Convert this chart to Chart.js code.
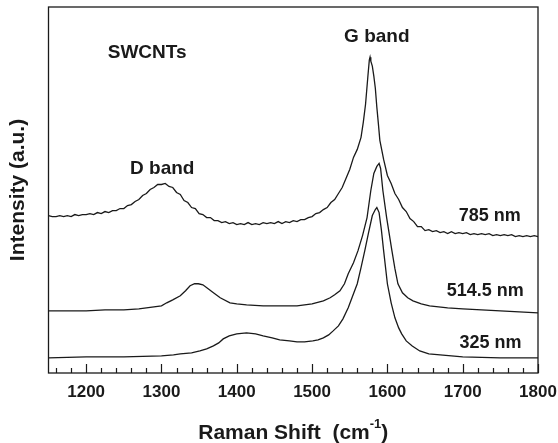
<!DOCTYPE html>
<html>
<head>
<meta charset="utf-8">
<script src="https://cdn.jsdelivr.net/npm/chart.js@4.4.1/dist/chart.umd.min.js"></script>
<style>
  html, body { margin: 0; padding: 0; background: #fff; }
  canvas { display: block; }
</style>
</head>
<body>
<canvas id="raman" width="558" height="443"></canvas>
<script>
// Raman spectra of SWCNTs at three laser lines (intensity in arbitrary units)
const majorTicks = [1200, 1300, 1400, 1500, 1600, 1700, 1800];
const minorTicks = [1160, 1180, 1220, 1240, 1260, 1280, 1320, 1340, 1360, 1380,
                    1420, 1440, 1460, 1480, 1520, 1540, 1560, 1580, 1620, 1640,
                    1660, 1680, 1720, 1740, 1760, 1780];

// 785 nm (noisy, top)
const shift785 = [1150, 1155, 1160, 1165, 1170, 1175, 1180, 1185, 1190, 1195,
                  1200, 1205, 1210, 1215, 1220, 1225, 1230, 1235, 1240, 1245,
                  1250, 1255, 1260, 1265, 1270, 1275, 1280, 1285, 1290, 1295,
                  1300, 1305, 1310, 1315, 1320, 1325, 1330, 1335, 1340, 1345,
                  1350, 1355, 1360, 1365, 1370, 1375, 1380, 1385, 1390, 1395,
                  1400, 1405, 1410, 1415, 1420, 1425, 1430, 1435, 1440, 1445,
                  1450, 1455, 1460, 1465, 1470, 1475, 1480, 1485, 1490, 1495,
                  1500, 1505, 1510, 1515, 1520, 1525, 1530, 1535, 1540, 1545,
                  1550, 1555, 1560, 1565, 1568, 1571, 1574, 1576, 1577, 1578,
                  1580, 1582, 1584, 1586, 1588, 1590, 1595, 1600, 1605, 1610,
                  1615, 1620, 1625, 1630, 1635, 1640, 1645, 1650, 1655, 1660,
                  1665, 1670, 1675, 1680, 1685, 1690, 1695, 1700, 1705, 1710,
                  1715, 1720, 1725, 1730, 1735, 1740, 1745, 1750, 1755, 1760,
                  1765, 1770, 1775, 1780, 1785, 1790, 1795, 1800];
const int785 = [157, 156, 156, 157, 156, 157, 156, 158, 157, 158,
                158, 159, 158, 160, 159, 161, 160, 162, 162, 164,
                164, 167, 168, 171, 173, 177, 179, 183, 185, 188,
                188, 189, 186, 185, 180, 178, 172, 170, 165, 164,
                159, 158, 155, 155, 152, 152, 150, 151, 149, 150,
                148, 149, 148, 150, 148, 149, 148, 150, 149, 150,
                149, 151, 149, 151, 150, 152, 151, 153, 153, 155,
                156, 159, 160, 163, 165, 170, 173, 179, 185, 194,
                203, 215, 223, 235, 250, 268, 295, 312, 315, 311,
                306, 296, 284, 265, 249, 232, 213, 197, 189, 179,
                173, 165, 161, 154, 151, 146, 146, 142, 143, 141,
                142, 140, 141, 139, 141, 139, 140, 139, 140, 138,
                139, 138, 139, 138, 139, 137, 138, 137, 138, 137,
                138, 136, 137, 136, 137, 136, 137, 136];

// 514.5 nm (middle)
const shift514 = [1150, 1175, 1200, 1225, 1250, 1270, 1290, 1300, 1307, 1315,
                  1325, 1332, 1338, 1344, 1349, 1355, 1362, 1369, 1378, 1391,
                  1400, 1413, 1435, 1460, 1480, 1500, 1515, 1524, 1530, 1537,
                  1543, 1548, 1555, 1561, 1567, 1573, 1578, 1582, 1586, 1589,
                  1591, 1594, 1599, 1606, 1610, 1614, 1620, 1627, 1634, 1645,
                  1656, 1680, 1700, 1725, 1750, 1775, 1800];
const int514 = [62, 62, 62, 63, 63, 64, 66, 67, 70, 73,
                77, 82, 87, 89, 89, 88, 84, 80, 75, 70,
                69, 68, 67, 67, 67, 69, 72, 75, 78, 82,
                89, 99, 110, 122, 137, 155, 182, 199, 206, 209,
                204, 182, 155, 122, 104, 89, 80, 75, 72, 69,
                67, 65, 64, 63, 62, 61, 60];

// 325 nm (bottom)
const shift325 = [1150, 1200, 1250, 1300, 1316, 1325, 1340, 1351, 1360, 1369,
                  1376, 1382, 1390, 1400, 1413, 1425, 1435, 1447, 1457, 1470,
                  1480, 1490, 1501, 1508, 1515, 1522, 1528, 1535, 1541, 1548,
                  1553, 1560, 1565, 1570, 1575, 1580, 1584, 1586, 1589, 1592,
                  1595, 1600, 1605, 1610, 1615, 1619, 1625, 1633, 1643, 1655,
                  1670, 1700, 1750, 1800];
const int325 = [15, 16, 16, 17, 18, 19, 20, 22, 24, 27,
                30, 34, 37, 39, 40, 39, 37, 35, 33, 32,
                31, 31, 32, 33, 35, 38, 42, 47, 54, 65,
                75, 89, 105, 122, 140, 157, 163, 165, 160, 143,
                122, 89, 70, 55, 45, 39, 32, 27, 22, 19,
                18, 16, 15, 15];

const FONT = '"Liberation Sans", Arial, Helvetica, sans-serif';
const INK = '#1a1a1a';

function toPoints(xs, ys) {
    return xs.map((x, i) => ({ x: x, y: ys[i] }));
}

// Text labels placed in data coordinates
const labels = [
    { text: 'SWCNTs', x: 1281, y: 319, size: 19, align: 'center' },
    { text: 'D band', x: 1301, y: 204, size: 19, align: 'center' },
    { text: 'G band', x: 1586, y: 335, size: 19, align: 'center' },
    { text: '785 nm', x: 1777, y: 157, size: 18, align: 'right' },
    { text: '514.5 nm', x: 1781, y: 82, size: 18, align: 'right' },
    { text: '325 nm', x: 1778, y: 30, size: 18, align: 'right' }
];

const framePlugin = {
    id: 'frame',
    afterDraw(chart) {
        const ctx = chart.ctx;
        const area = chart.chartArea;
        const xs = chart.scales.x;
        const ys = chart.scales.y;
        ctx.save();
        ctx.strokeStyle = INK;
        ctx.lineWidth = 1.3;
        ctx.strokeRect(area.left, area.top, area.right - area.left, area.bottom - area.top);

        // inward ticks on bottom axis
        ctx.lineWidth = 1.2;
        ctx.beginPath();
        majorTicks.forEach(v => {
            const px = Math.round(xs.getPixelForValue(v)) + 0.5;
            ctx.moveTo(px, area.bottom);
            ctx.lineTo(px, area.bottom - 9);
        });
        minorTicks.forEach(v => {
            const px = Math.round(xs.getPixelForValue(v)) + 0.5;
            ctx.moveTo(px, area.bottom);
            ctx.lineTo(px, area.bottom - 5);
        });
        ctx.stroke();

        // annotations
        ctx.fillStyle = INK;
        ctx.textBaseline = 'middle';
        labels.forEach(l => {
            ctx.font = 'bold ' + l.size + 'px ' + FONT;
            ctx.textAlign = l.align;
            ctx.fillText(l.text, xs.getPixelForValue(l.x), ys.getPixelForValue(l.y));
        });

        // x axis title with superscript
        const main = 'Raman Shift  (cm';
        const sup = '-1';
        const tail = ')';
        ctx.font = 'bold 21px ' + FONT;
        const wMain = ctx.measureText(main).width;
        const wTail = ctx.measureText(tail).width;
        ctx.font = 'bold 13px ' + FONT;
        const wSup = ctx.measureText(sup).width;
        const cx = (area.left + area.right) / 2;
        let tx = cx - (wMain + wSup + wTail) / 2;
        const ty = 433;
        ctx.textAlign = 'left';
        ctx.font = 'bold 21px ' + FONT;
        ctx.fillText(main, tx, ty);
        tx += wMain;
        ctx.font = 'bold 13px ' + FONT;
        ctx.fillText(sup, tx, ty - 9);
        tx += wSup;
        ctx.font = 'bold 21px ' + FONT;
        ctx.fillText(tail, tx, ty);

        // y axis title
        ctx.save();
        ctx.translate(18, (area.top + area.bottom) / 2);
        ctx.rotate(-Math.PI / 2);
        ctx.textAlign = 'center';
        ctx.font = 'bold 21px ' + FONT;
        ctx.fillText('Intensity (a.u.)', 0, 0);
        ctx.restore();

        ctx.restore();
    }
};

function lineSet(label, xs, ys) {
    return {
        label: label,
        data: toPoints(xs, ys),
        borderColor: INK,
        borderWidth: 1.3,
        pointRadius: 0,
        tension: 0,
        fill: false
    };
}

const chart = new Chart(document.getElementById('raman').getContext('2d'), {
    type: 'line',
    data: {
        datasets: [
            lineSet('785 nm', shift785, int785),
            lineSet('514.5 nm', shift514, int514),
            lineSet('325 nm', shift325, int325)
        ]
    },
    options: {
        responsive: false,
        devicePixelRatio: 1,
        animation: false,
        layout: {
            padding: { left: 48.5, right: 20, top: 7, bottom: 31.6 }
        },
        plugins: {
            legend: { display: false },
            tooltip: { enabled: false }
        },
        scales: {
            x: {
                type: 'linear',
                min: 1150,
                max: 1800,
                grid: { display: false, drawTicks: false },
                border: { display: false },
                afterBuildTicks: scale => {
                    scale.ticks = majorTicks.map(v => ({ value: v }));
                },
                // keep the plot box width fixed, labels may overhang
                afterFit: scale => {
                    scale.paddingLeft = 0;
                    scale.paddingRight = 0;
                },
                ticks: {
                    color: INK,
                    padding: 9,
                    maxRotation: 0,
                    autoSkip: false,
                    font: { family: FONT, size: 17, weight: 'bold' },
                    callback: v => String(v)
                }
            },
            y: {
                type: 'linear',
                min: 0,
                max: 365,
                grid: { display: false, drawTicks: false },
                border: { display: false },
                ticks: { display: false }
            }
        }
    },
    plugins: [framePlugin]
});
</script>
</body>
</html>
